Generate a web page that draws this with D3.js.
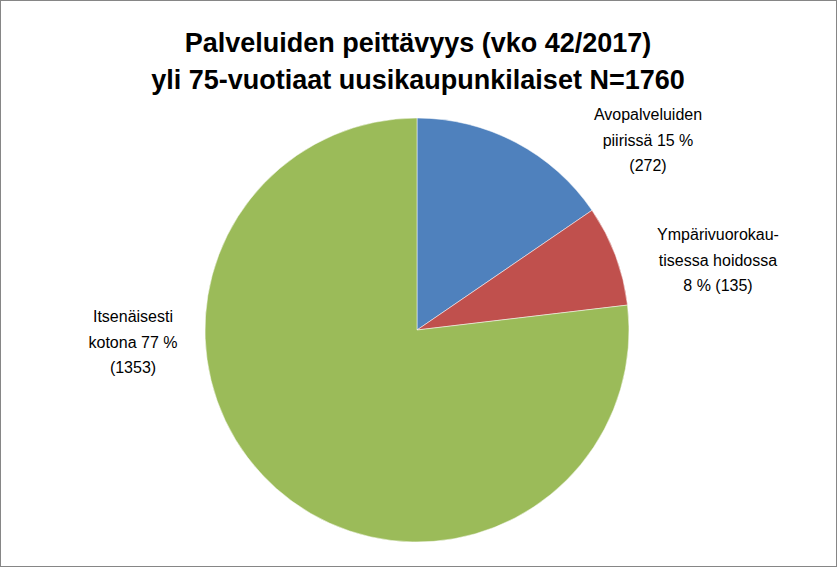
<!DOCTYPE html>
<html><head><meta charset="utf-8">
<script src="https://cdn.jsdelivr.net/npm/d3@7"></script>
<style>body{margin:0;background:#fff}</style>
</head><body>
<svg id="chart" width="837" height="567"></svg>
<script>
var categories = ["Avopalveluiden piirissä", "Ympärivuorokautisessa hoidossa", "Itsenäisesti kotona"];
var values = [272, 135, 1353];
var colors = ["#4F81BD", "#C0504D", "#9BBB59"];
var titleLines = ["Palveluiden peittävyys (vko 42/2017)", "yli 75-vuotiaat uusikaupunkilaiset   N=1760"];
var labelLines = [
    ["Avopalveluiden", "piirissä 15 %", "(272)"],
    ["Ympärivuorokau-", "tisessa hoidossa", "8 % (135)"],
    ["Itsenäisesti", "kotona 77 %", "(1353)"]
];
var labelPos = [[648, 120], [718, 240], [133, 322]];

var svg = d3.select("#chart");
svg.append("rect").attr("x", 0.5).attr("y", 0.5).attr("width", 836).attr("height", 566)
    .attr("fill", "#fff").attr("stroke", "#868686");

svg.selectAll(".title").data(titleLines).enter().append("text")
    .attr("x", 418).attr("y", function(d, i) { return 52 + i * 37; })
    .attr("text-anchor", "middle")
    .style("font", "bold 27px 'Liberation Sans', Arial, sans-serif")
    .text(function(d) { return d; });

var pie = d3.pie().sort(null).value(function(d) { return d; });
var arc = d3.arc().innerRadius(0).outerRadius(212);

var g = svg.append("g").attr("transform", "translate(417,330)");
g.selectAll("path").data(pie(values)).enter().append("path")
    .attr("d", arc)
    .attr("fill", function(d, i) { return colors[i]; })
    .attr("stroke", "#fff").attr("stroke-width", 0.5);

labelLines.forEach(function(lines, i) {
    var t = svg.append("text")
        .attr("text-anchor", "middle")
        .style("font", "16px 'Liberation Sans', Arial, sans-serif")
        .attr("fill", "#000");
    lines.forEach(function(l, j) {
        t.append("tspan").attr("x", labelPos[i][0]).attr("y", labelPos[i][1] + j * 25.5).text(l);
    });
});
</script>
</body></html>
